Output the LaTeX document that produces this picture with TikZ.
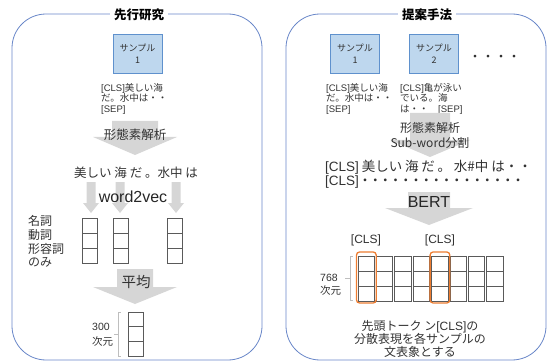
\documentclass[tikz,border=0pt]{standalone}
\usepackage{fontspec}
\setmainfont{Noto Sans CJK JP}
\newfontfamily\lat{Liberation Sans}
\definecolor{panelblue}{RGB}{104,134,200}
\definecolor{boxfill}{RGB}{190,215,238}
\definecolor{boxline}{RGB}{95,145,205}
\definecolor{arrowgray}{RGB}{214,214,214}
\definecolor{txt}{RGB}{50,50,50}
\definecolor{cellline}{RGB}{90,90,90}
\definecolor{brgray}{RGB}{190,190,190}
\definecolor{clsorange}{RGB}{237,125,49}
\newcommand\garrow[6]{\fill[arrowgray] ({#1-#3},#2) -- ({#1+#3},#2) -- ({#1+#3},#4) -- ({#1+#5},#4) -- (#1,#6) -- ({#1-#5},#4) -- ({#1-#3},#4) -- cycle;}
\newcommand\vcol[4]{\draw[cell] (#1,#2) rectangle ++(#3,#4) (#1,{#2+#4}) rectangle ++(#3,#4) (#1,{#2+2*#4}) rectangle ++(#3,#4);}
\newcommand\dt{\makebox[10.2pt]{・}}
\newcommand\wsp{\hspace{2.8pt}}
\tikzset{
  panel/.style={draw=panelblue,line width=0.8pt,rounded corners=34pt},
  ptitle/.style={fill=white,inner sep=4pt,font=\fontsize{12.5}{14}\selectfont\bfseries,text=black},
  sample/.style={draw=boxline,fill=boxfill,line width=0.8pt,minimum width=49pt,minimum height=39pt,inner sep=0pt,align=center,font=\fontsize{9}{12}\selectfont,text=txt},
  small/.style={inner sep=0pt,align=left,font=\fontsize{9.5}{10.5}\selectfont,text=txt,anchor=west},
  mid/.style={inner sep=0pt,font=\fontsize{12.5}{14}\selectfont,text=txt},
  cell/.style={draw=cellline,line width=0.7pt},
  brk/.style={draw=brgray,line width=0.7pt},
  cls/.style={draw=clsorange,line width=1.3pt,rounded corners=3pt}
}
\begin{document}
\begin{tikzpicture}[x=1pt,y=-1pt]
\useasboundingbox (0,0) rectangle (547,361);
% panels
\draw[panel] (12,14) rectangle (262,360);
\draw[panel] (286,14) rectangle (546,360);
\node[ptitle] (t1) at (139,15) {先行研究};
\node[ptitle] (t2) at (427,15) {提案手法};

% ---------- left panel ----------
\node[sample] (s1) at (137.5,53.5) {サンプル\\1};
\node[small] (c1) at (101,98.5) {{\lat [CLS]}美しい海\\だ。水中は・・\\{\lat [SEP]}};
\garrow{135}{121}{23}{137}{42}{155}
\node[mid] (m1) at (135,135) {形態素解析};
\node[mid] (w1) at (136,173) {美しい 海 だ 。水中 は};
\garrow{91}{182}{4.5}{203}{8}{213}
\garrow{120}{182}{4.5}{203}{8}{213}
\garrow{176}{182}{4.5}{203}{8}{213}
\node[inner sep=0pt,font=\lat\fontsize{16}{18}\selectfont,text=black!85] (w2v) at (133,197) {word2vec};
\vcol{82.5}{218}{15}{15}
\vcol{113.5}{218}{15}{15}
\vcol{167.5}{218}{15}{15}
\node[inner sep=0pt,align=left,anchor=west,font=\fontsize{12}{13.7}\selectfont,text=txt] (pos) at (28,241.5) {名詞\\動詞\\形容詞\\のみ};
\garrow{135}{269}{18}{287}{42}{304}
\node[inner sep=0pt,font=\fontsize{14.5}{16}\selectfont,text=txt] (avg) at (136,282) {平均};
\vcol{128.5}{312}{15}{14.7}
\draw[brk] (121,312) -- (118,312) -- (118,356) -- (121,356) (118,334) -- (114,334);
\node[inner sep=0pt,align=left,anchor=west,font=\fontsize{10.5}{15}\selectfont,text=txt] (d300) at (92,335) {{\lat 300}\\次元};

% ---------- right panel ----------
\node[sample] (r1) at (355,54) {サンプル\\1};
\node[sample] (r2) at (434,54) {サンプル\\2};
\node[inner sep=0pt,font=\fontsize{13}{14}\selectfont,text=txt] (dots) at (494.5,58) {・・・・};
\node[small] (rc1) at (326,98.5) {{\lat [CLS]}美しい海\\だ。水中は・・\\{\lat [SEP]}};
\node[small] (rc2) at (400,98.5) {{\lat [CLS]}亀が泳い\\でいる。海\\は・・\quad{\lat [SEP]}};
\garrow{430}{113}{20}{140}{40}{157}
\node[inner sep=0pt,align=center,font=\fontsize{12}{15}\selectfont,text=txt] (m2) at (430,135.5) {形態素解析\\Sub-word分割};
\node[inner sep=0pt,anchor=west,font=\fontsize{13.5}{15}\selectfont,text=txt] (tok1) at (325,167) {{\lat [CLS]}\wsp 美しい\wsp 海\wsp だ\wsp 。\wsp 水\#中\wsp は・・};
\node[inner sep=0pt,anchor=west,font=\fontsize{13.5}{15}\selectfont,text=txt] (tok2) at (325,182) {{\lat [CLS]}\kern1pt\dt\dt\dt\dt\dt\dt\dt\dt\dt\dt\dt\dt\dt\dt\dt\dt};
\garrow{429}{192}{21}{208}{44}{225}
\node[inner sep=0pt,font=\lat\fontsize{16}{18}\selectfont,text=black!85] (bert) at (429,202) {BERT};
\node[inner sep=0pt,font=\lat\fontsize{12}{14}\selectfont,text=txt] (cls1) at (366,240) {[CLS]};
\node[inner sep=0pt,font=\lat\fontsize{12}{14}\selectfont,text=txt] (cls2) at (440,240) {[CLS]};
\foreach \i in {0,...,7} {\vcol{358+18.4*\i}{256}{16.4}{15}}
\draw[cls] (356.5,252) rectangle (376.2,303);
\draw[cls] (430.1,252) rectangle (449.8,303);
\draw[brk] (353,256) -- (350,256) -- (350,300) -- (353,300) (350,278) -- (345,278);
\node[inner sep=0pt,align=left,anchor=west,font=\fontsize{10.5}{13}\selectfont,text=txt] (d768) at (320,285) {{\lat 768}\\次元};
\node[inner sep=0pt,align=center,font=\fontsize{12}{13.2}\selectfont,text=txt] (desc) at (420,339) {先頭トーク ン{\lat [CLS]}の\\分散表現を各サンプルの\\文表象とする};
\end{tikzpicture}
\end{document}
